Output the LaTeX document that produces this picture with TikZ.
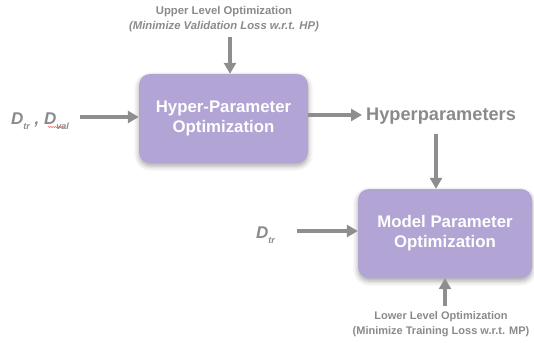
\documentclass[tikz,border=0pt]{standalone}
\usepackage{fontspec}
\setmainfont{Liberation Sans}
\usetikzlibrary{arrows.meta,shadows.blur,decorations.pathmorphing}
\definecolor{boxfill}{HTML}{B2A4D4}
\definecolor{arrowgray}{HTML}{8E8E8E}
\definecolor{labelgray}{HTML}{8A8A8A}
\newcommand{\subtext}[1]{\raisebox{-5pt}{\fontsize{9}{9}\selectfont #1}}
\tikzset{
  optbox/.style={rectangle, rounded corners=11pt, fill=boxfill, draw=none,
    blur shadow={shadow xshift=0pt, shadow yshift=-3pt, shadow blur radius=5pt, shadow opacity=35},
    text=white, font=\bfseries\fontsize{16.8}{20}\selectfont, align=center, inner sep=0pt},
  flow/.style={draw=arrowgray, line width=3.6pt, -{Triangle[width=12pt,length=11pt]}},
  caption/.style={text=labelgray, font=\bfseries\fontsize{11.3}{14.5}\selectfont, align=center, inner sep=0pt},
  dataname/.style={text=labelgray, font=\bfseries\itshape\fontsize{17}{20}\selectfont, inner sep=0pt, anchor=base west},
}
\begin{document}
\begin{tikzpicture}[x=1pt,y=-1pt]
\useasboundingbox (0,0) rectangle (534,342);

% the two optimization stages
\node[optbox, minimum width=169pt, minimum height=89pt] (hpo) at (223.5,118.5) {Hyper-Parameter\\Optimization};
\node[optbox, minimum width=174pt, minimum height=89pt] (mpo) at (445,233.5) {Model Parameter\\Optimization};

% upper level caption
\node[caption] (upper) at (224,19) {Upper Level Optimization\\\itshape(Minimize Validation Loss w.r.t. HP)};
\coordinate (upperS) at (230,37);
\draw[flow] (upperS) -- (upperS |- hpo.north);

% data inputs of the upper level
\node[dataname] (dtrval) at (11,124) {D\subtext{tr} , D\subtext{val}};
\draw[red!70!white, line width=0.4pt, decorate, decoration={snake, amplitude=0.6pt, segment length=2.2pt}] (48,127) -- (64,127);
\coordinate (dtrvalE) at (80,117);
\draw[flow] (dtrvalE) -- (dtrvalE -| hpo.west);

% hyperparameters passed on
\node[text=labelgray, font=\bfseries\fontsize{18.2}{20}\selectfont, inner sep=0pt, anchor=west] (hp) at (366,116) {Hyperparameters};
\coordinate (hpoE) at (hpo.east |- 0,115);
\draw[flow] (hpoE) -- ([xshift=-4pt]hp.west |- hpoE);
\coordinate (hpS) at (436,134);
\draw[flow] (hpS) -- (hpS |- mpo.north);

% data input of the lower level
\node[dataname] (dtr) at (256,238) {D\subtext{tr}};
\coordinate (dtrE) at (297,231);
\draw[flow] (dtrE) -- (dtrE -| mpo.west);

% lower level caption
\node[caption, font=\bfseries\fontsize{11}{14.5}\selectfont] (lower) at (441,324) {Lower Level Optimization\\(Minimize Training Loss w.r.t. MP)};
\coordinate (lowerN) at (445,306);
\draw[flow] (lowerN) -- (lowerN |- mpo.south);
\end{tikzpicture}
\end{document}
